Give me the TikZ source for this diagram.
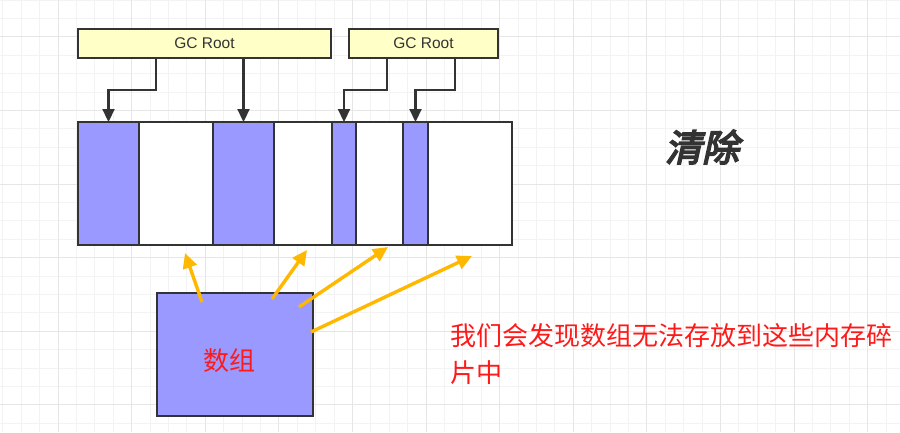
\documentclass[tikz,border=0pt]{standalone}
\usepackage{fontspec}
\setmainfont{Liberation Sans}
\newfontfamily\cjk{Noto Sans CJK SC}
\newfontfamily\cjktitle[FakeBold=4.5,FakeSlant=0.22]{Noto Sans CJK SC}
\usetikzlibrary{arrows.meta}

\definecolor{memblue}{HTML}{9999FF}
\definecolor{rootyellow}{HTML}{FFFFC8}
\definecolor{linegray}{HTML}{333333}
\definecolor{fitorange}{HTML}{FFB800}
\definecolor{notered}{HTML}{FF1A1A}
\definecolor{gridminor}{HTML}{F3F3F3}
\definecolor{gridmajor}{HTML}{E6E6E6}

\tikzset{
  cell/.style={draw=linegray, line width=2.3pt, minimum height=123pt,
    inner sep=0pt, outer sep=0pt, anchor=north west},
  usedcell/.style={cell, fill=memblue},
  freecell/.style={cell, fill=white},
  rootbox/.style={draw=linegray, line width=2.3pt, fill=rootyellow,
    minimum height=29pt, inner sep=0pt, outer sep=0pt, anchor=north west,
    font=\fontsize{15.5}{18}\selectfont, text=linegray},
  refarrow/.style={draw=linegray, line width=2.2pt,
    -{Triangle[length=13pt,width=12pt]}},
  fitarrow/.style={draw=fitorange, line width=3.4pt,
    -{Triangle[length=15pt,width=14pt]}}
}

\begin{document}
\begin{tikzpicture}[x=1pt,y=-1pt]
  \fill[white] (0,0) rectangle (900,432);
  \useasboundingbox (0,0) rectangle (900,432);

  % grid
  \foreach \i in {0,...,48}
    \draw[gridminor, line width=0.9pt] ({2.9+18.4*\i},0) -- ({2.9+18.4*\i},432);
  \foreach \j in {0,...,23}
    \draw[gridminor, line width=0.9pt] (0,{18.4*\j}) -- (900,{18.4*\j});
  \foreach \i in {0,...,11}
    \draw[gridmajor, line width=0.9pt] ({58.1+73.6*\i},0) -- ({58.1+73.6*\i},432);
  \foreach \j in {0,...,5}
    \draw[gridmajor, line width=0.9pt] (0,{36.8+73.6*\j}) -- (900,{36.8+73.6*\j});

  % roots
  \path (78,29) node[rootbox, minimum width=253pt] (root1) {GC Root};
  \path (349,29) node[rootbox, minimum width=149pt] (root2) {GC Root};

  % memory
  \path (78,122) node[usedcell, minimum width=61pt] (c1) {};
  \path (139,122) node[freecell, minimum width=74pt] (c2) {};
  \path (213,122) node[usedcell, minimum width=61pt] (c3) {};
  \path (274,122) node[freecell, minimum width=58pt] (c4) {};
  \path (332,122) node[usedcell, minimum width=24pt] (c5) {};
  \path (356,122) node[freecell, minimum width=47pt] (c6) {};
  \path (403,122) node[usedcell, minimum width=25pt] (c7) {};
  \path (428,122) node[freecell, minimum width=84pt] (c8) {};

  \coordinate (s1) at (156,58);
  \coordinate (s2) at (243.5,58);
  \coordinate (s3) at (387,58);
  \coordinate (s4) at (455,58);
  \draw[refarrow] (s1) -- ++(0,32) -| (c1.north);
  \draw[refarrow] (s2) -- (c3.north);
  \draw[refarrow] (s3) -- ++(0,32) -| (c5.north);
  \draw[refarrow] (s4) -- ++(0,32) -| (c7.north);

  % array
  \path (157,293) node[draw=linegray, line width=2.3pt, fill=memblue,
    minimum width=156pt, minimum height=123pt, inner sep=0pt, outer sep=0pt,
    anchor=north west] (arr) {};
  \path (229.5,360.5) node[font=\cjk\fontsize{26}{30}\selectfont, text=notered] (arrtext) {数组};

  \coordinate (a1) at (202,302);
  \coordinate (a2) at (272,299);
  \coordinate (a3) at (299,307);
  \coordinate (a4) at (311,332);
  \coordinate (e1) at (185,253);
  \coordinate (e2) at (307,250);
  \coordinate (e3) at (388,247);
  \coordinate (e4) at (472,256);
  \draw[fitarrow] (a1) -- (e1);
  \draw[fitarrow] (a2) -- (e2);
  \draw[fitarrow] (a3) -- (e3);
  \draw[fitarrow] (a4) -- (e4);

  % texts
  \path (702,147) node[font=\cjktitle\fontsize{37}{42}\selectfont, text=linegray] (title) {清除};
  \path (450,323.5) node[anchor=north west, inner sep=0pt, align=left,
    font=\cjk\fontsize{26}{37}\selectfont, text=notered] (note)
    {我们会发现数组无法存放到这些内存碎\\片中};
\end{tikzpicture}
\end{document}
